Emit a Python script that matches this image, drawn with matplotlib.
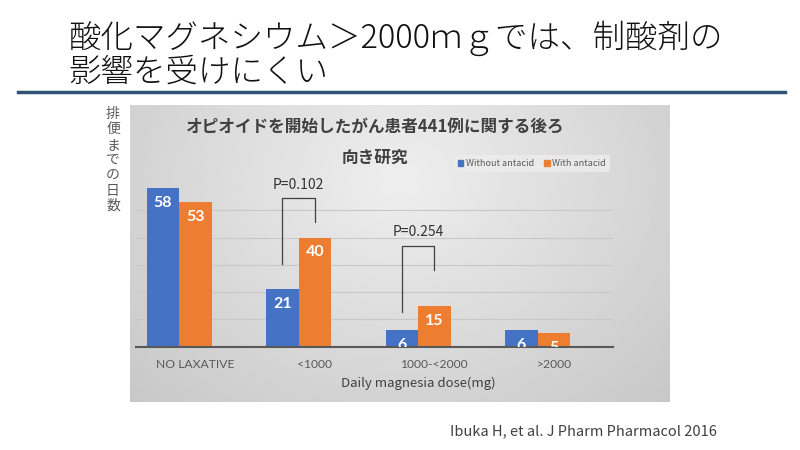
import numpy as np
import matplotlib.pyplot as plt
from matplotlib.patches import Patch

plt.rcParams['font.family'] = ['Noto Sans CJK JP', 'DejaVu Sans']

# データ
categories = ['NO LAXATIVE', '<1000', '1000-<2000', '>2000']
without_antacid = [58, 21, 6, 6]
with_antacid = [53, 40, 15, 5]
series_names = ['Without antacid', 'With antacid']
# (カテゴリ番号, 左脚の下端, 右脚の下端, 上端, ラベル)
brackets = [(1, 30.3, 45.8, 54.4, 'P=0.102'),
            (2, 12.6, 28.1, 37.0, 'P=0.254')]

heading1 = '酸化マグネシウム＞2000ｍｇでは、制酸剤の'
heading2 = '影響を受けにくい'
chart_title1 = 'オピオイドを開始したがん患者441例に関する後ろ'
chart_title2 = '向き研究'
ylabel = '排便までの日数'
xlabel = 'Daily magnesia dose(mg)'
citation = 'Ibuka H, et al. J Pharm Pharmacol 2016'

blue = '#4472C4'
orange = '#ED7D31'
W, H = 800, 450


def fx(px):
    return px / W


def fy(py):
    return 1 - py / H


fig = plt.figure(figsize=(8, 4.5), dpi=100)

# 見出し
fig.text(fx(68), fy(38), heading1, fontsize=23.4, va='center', ha='left',
         color='#111111', fontweight='light')
fig.text(fx(68), fy(72), heading2, fontsize=23.4, va='center', ha='left',
         color='#111111', fontweight='light')
fig.add_artist(plt.Line2D([fx(18), fx(785)], [fy(92.5), fy(92.5)],
                          color='#2F5476', lw=2.5))

# グラフ背景（グラデーション）
bg = fig.add_axes([fx(130), fy(402), fx(540), 297 / H])
yy, xx = np.mgrid[0:1:200j, 0:1:300j]
r = np.sqrt(((xx - 0.5) / 0.6) ** 2 + ((yy - 0.25) / 0.9) ** 2)
grad = 0.935 - 0.13 * np.clip(r, 0, 1.3)
bg.imshow(grad, cmap='gray', vmin=0, vmax=1, aspect='auto',
          extent=[0, 1, 1, 0])
bg.axis('off')

# 棒グラフ
base_px = 346.7
top_px = base_px - 60 * 2.73
ax = fig.add_axes([fx(136), fy(base_px), fx(613 - 136), (base_px - top_px) / H])
ax.patch.set_alpha(0)
x = np.arange(len(categories))
bw = 0.272
b1 = ax.bar(x - bw / 2, without_antacid, bw, color=blue, zorder=3)
b2 = ax.bar(x + bw / 2, with_antacid, bw, color=orange, zorder=3)
ax.set_xlim(-0.36, 3.63)
ax.set_ylim(0, 60)
ax.set_yticks([10, 20, 30, 40, 50])
ax.yaxis.grid(True, color='#c8c8c8', lw=0.8, zorder=0)
ax.tick_params(axis='y', length=0, labelleft=False)
for s in ['top', 'right', 'left']:
    ax.spines[s].set_visible(False)
ax.spines['bottom'].set_color('#595959')
ax.spines['bottom'].set_linewidth(1.5)
ax.spines['bottom'].set_zorder(4)
# 元図ではラベルが少し右にずれている
ax.set_xticks(x + 0.135)
ax.set_xticklabels(categories, fontsize=8.7, color='#595959', family=['Lato'])
ax.tick_params(axis='x', length=0, pad=9)

for bars in (b1, b2):
    for rect in bars:
        v = rect.get_height()
        ax.annotate(f'{v:g}', (rect.get_x() + rect.get_width() / 2, v),
                    xytext=(0, -10.8), textcoords='offset points',
                    ha='center', va='center', color='white', fontsize=11.5,
                    fontweight='bold', family=['Lato'], clip_on=True,
                    zorder=5)

# P値の括弧
for i, yl, yr, yt, lab in brackets:
    xl = i - bw / 2
    xr = i + bw / 2
    ax.plot([xl, xl, xr, xr], [yl, yt, yt, yr], color='#404040', lw=0.9,
            zorder=4, clip_on=False)
    ax.text((xl + xr) / 2, yt + 5, lab, ha='center', va='center',
            fontsize=10, color='#333333', clip_on=False)

leg = fig.legend([Patch(color=blue), Patch(color=orange)], series_names,
                 loc='center', bbox_to_anchor=(fx(532), fy(163.5)), ncol=2,
                 fontsize=6.5, frameon=True, handlelength=0.6,
                 handleheight=0.6, handletextpad=0.3, columnspacing=1.1,
                 borderpad=0.4, fancybox=False)
leg.get_frame().set_facecolor('#ededed')
leg.get_frame().set_edgecolor('none')
for t in leg.get_texts():
    t.set_color('#595959')

# グラフタイトル
fig.text(fx(375), fy(126.7), chart_title1, ha='center', va='center',
         fontsize=12, fontweight='bold', color='#404040')
fig.text(fx(375), fy(158), chart_title2, ha='center', va='center',
         fontsize=12, fontweight='bold', color='#404040')

fig.text(fx(418), fy(383), xlabel, ha='center', va='center', fontsize=9.5,
         color='#404040')

for k, ch in enumerate(ylabel):
    fig.text(fx(113), fy(114 + 15.3 * k), ch, ha='center', va='center',
             fontsize=10, color='#595959')

fig.text(fx(450), fy(431), citation, ha='left', va='center', fontsize=10.5,
         color='#404040')

fig.savefig('out.png', dpi=100)
